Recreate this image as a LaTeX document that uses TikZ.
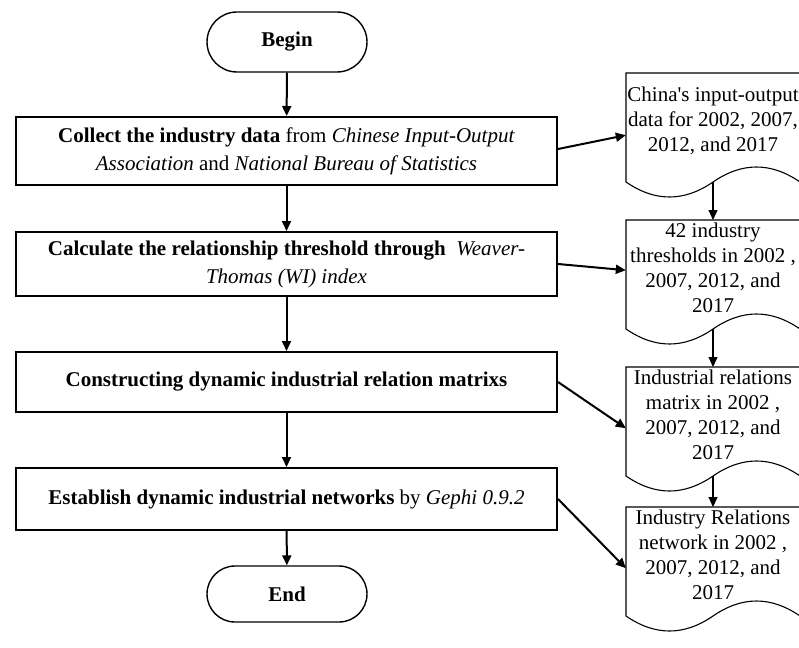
\documentclass[tikz,border=0pt]{standalone}
\usepackage{fontspec}
\setmainfont{Liberation Serif}[Ligatures=TeXOff]
\usetikzlibrary{arrows.meta,shapes.misc}
\begin{document}
\begin{tikzpicture}[x=1pt,y=-1pt,
  proc/.style={draw, line width=2pt, minimum width=541pt, align=center, inner sep=0pt,
    font=\fontsize{21}{28}\selectfont},
  term/.style={draw, rounded rectangle, line width=1.4pt, minimum width=160pt, minimum height=60pt,
    inner sep=0pt, font=\bfseries\fontsize{21}{25}\selectfont},
  doc/.style={minimum width=174pt, minimum height=96pt, inner sep=0pt, align=center,
    font=\fontsize{21}{25}\selectfont},
  docline/.style={line width=1.1pt},
  arr/.style={-{Triangle[length=10pt,width=9pt]}, line width=2pt},
  darr/.style={-{Triangle[length=10pt,width=9pt]}, line width=1.2pt}
]
\useasboundingbox (0,0) rectangle (799,647);
\fill[white] (0,0) rectangle (799,647);

\node[term] (begin) at (287,42) {Begin};
\node[proc, minimum height=68pt] (b1) at (286.5,151)
  {\textbf{Collect the industry data} from \textit{Chinese Input-Output}\\
   \textit{Association} and \textit{National Bureau of Statistics}};
\node[proc, minimum height=64pt] (b2) at (286.5,264)
  {\textbf{Calculate the relationship threshold through}\ \ \textit{Weaver-}\\
   \textit{Thomas (WI) index}};
\node[proc, minimum height=60pt] (b3) at (286.5,382)
  {\textbf{Constructing dynamic industrial relation matrixs}};
\node[proc, minimum height=62pt] (b4) at (286.5,499)
  {\textbf{Establish dynamic industrial networks} by \textit{Gephi 0.9.2}};
\node[term, minimum height=56pt] (end) at (287,594) {End};

\draw[arr] (begin) -- (b1);
\draw[arr] (b1) -- (b2);
\draw[arr] (b2) -- (b3);
\draw[arr] (b3) -- (b4);
\draw[arr] (b4) -- (end);

\node[doc, anchor=north] (d1) at (713,73)
  {China's input-output\\data for 2002, 2007,\\2012, and 2017};
\node[doc, anchor=north] (d2) at (713,220)
  {42 industry\\thresholds in 2002 ,\\2007, 2012, and\\2017};
\node[doc, anchor=north] (d3) at (713,367)
  {Industrial relations\\matrix in 2002 ,\\2007, 2012, and\\2017};
\node[doc, anchor=north] (d4) at (713,507)
  {Industry Relations\\network in 2002 ,\\2007, 2012, and\\2017};

\foreach \t in {73,220,367,507}{
  \draw[docline] (626,\t) -- (800,\t) -- (800,{\t+109})
    .. controls (771,{\t+89}) and (742,{\t+89}) .. (713,{\t+109})
    .. controls (684,{\t+129}) and (655,{\t+129}) .. (626,{\t+109}) -- cycle;
}

\coordinate (w1) at (713,182);
\coordinate (w2) at (713,329);
\coordinate (w3) at (713,476);
\draw[darr] (w1) -- (d2.north);
\draw[darr] (w2) -- (d3.north);
\draw[darr] (w3) -- (d4.north);

\draw[arr] ([yshift=2pt]b1.east) -- ([yshift=-14pt]d1.west);
\draw[arr] (b2.east) -- ([yshift=-2pt]d2.west);
\draw[arr] (b3.east) -- ([yshift=-13pt]d3.west);
\draw[arr] (b4.east) -- ([yshift=-13pt]d4.west);
\end{tikzpicture}
\end{document}
